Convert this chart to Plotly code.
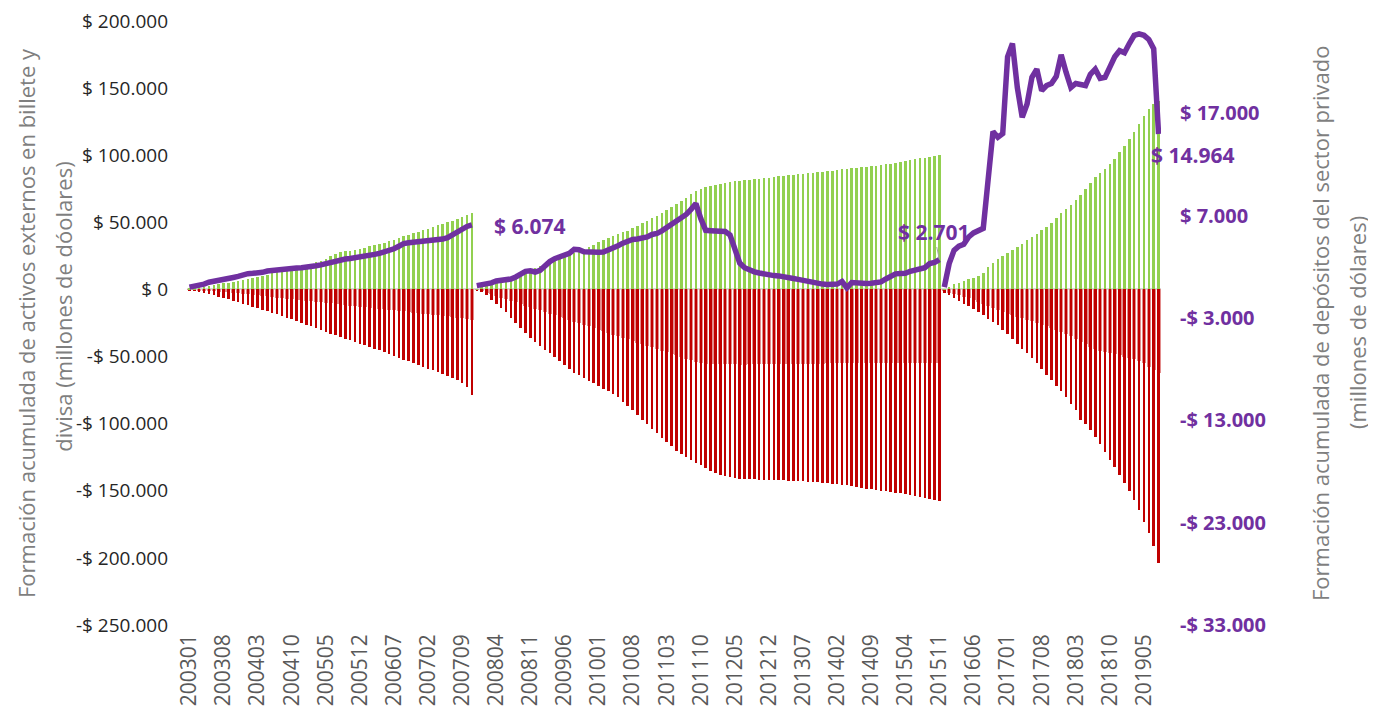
import plotly.graph_objects as go

# monthly categories 200301 .. 201908
months = [f"{y}{m:02d}" for y in range(2003, 2020) for m in range(1, 13)]
months = months[:months.index("201908") + 1]
pos = list(range(len(months)))

# three periods: 200301-200711, 200712-201511, 201512-201908
pos_a = pos[:59]
pos_b = pos[59:155]
pos_c = pos[155:]

# accumulated purchases (green, millions USD)
green_a = [400, 900, 1500, 2000, 2600, 3200, 3800, 4500, 5100, 5800, 6500, 7200, 7900, 8600, 9400,
           10300, 11100, 12000, 12800, 13700, 14500, 15400, 16300, 17200, 18200, 19200, 20300, 21500,
           23000, 24800, 26500, 27800, 28400, 29000, 29700, 30400, 31100, 32000, 32900, 33800, 34900,
           36000, 37100, 38300, 39500, 40600, 41800, 43000, 44100, 45300, 46500, 47700, 48900, 50100,
           51300, 52500, 53800, 55300, 57000]
green_b = [300, 1500, 2800, 4000, 5300, 6600, 7900, 9200, 10500, 11900, 13300, 14700, 16000, 17400,
           18800, 20200, 21600, 23000, 24500, 25900, 27300, 28800, 30200, 31700, 33400, 35200, 36700,
           38200, 39700, 41100, 42500, 43900, 45600, 47400, 49300, 51200, 53100, 55000, 57200, 59400,
           61600, 63900, 66200, 68500, 70800, 73000, 75000, 76300, 77300, 78100, 78800, 79400, 80000,
           80500, 81000, 81400, 81800, 82200, 82600, 83000, 83400, 83800, 84200, 84600, 85000, 85400,
           85800, 86200, 86600, 87000, 87400, 87800, 88200, 88600, 89000, 89400, 89800, 90200, 90600,
           91000, 91400, 91800, 92200, 92700, 93200, 93800, 94400, 95000, 95600, 96200, 96900, 97600,
           98300, 99000, 99700, 100300]
green_c = [300, 1700, 3700, 5000, 6000, 7500, 8600, 10000, 12500, 16500, 20000, 22800, 25200, 27300,
           29600, 31800, 34200, 36500, 39000, 41500, 44000, 46800, 49700, 53300, 56800, 59900, 63200,
           66800, 70500, 74700, 79000, 83600, 86700, 89800, 93500, 97300, 102200, 107100, 112100,
           117000, 123300, 129500, 134500, 138000, 140600]

# accumulated sales (red, millions USD)
red_a = [-800, -1500, -2200, -3000, -3700, -4500, -5400, -6400, -7400, -8500, -9600, -10700, -11800,
         -12900, -14000, -15000, -16100, -17300, -18500, -19700, -20900, -22200, -23500, -24800,
         -26200, -27500, -28900, -30300, -31600, -32900, -34200, -35400, -36600, -37900, -39100,
         -40400, -41600, -42900, -44100, -45400, -46800, -48100, -49500, -50800, -52200, -53500,
         -54900, -56200, -57600, -58900, -60300, -61600, -63000, -64500, -66000, -67600, -69800,
         -72700, -79000]
red_b = [-500, -2000, -4500, -7500, -10500, -13800, -17000, -21000, -25000, -29000, -32800, -36000,
         -39000, -42000, -45000, -47600, -50500, -53400, -56300, -59200, -62000, -64000, -66000,
         -68000, -70000, -72000, -74000, -76000, -78200, -80500, -83500, -86800, -90100, -93500,
         -96900, -100300, -103700, -107100, -110500, -113900, -117000, -120000, -122300, -124600,
         -126800, -129000, -131000, -133000, -135000, -136700, -138000, -139200, -140000, -140600,
         -140900, -141100, -141300, -141500, -141700, -141900, -142000, -142100, -142200, -142300,
         -142400, -142600, -142800, -143000, -143200, -143400, -143600, -143900, -144200, -144600,
         -145000, -145500, -146000, -146600, -147100, -147700, -148300, -149000, -149500, -150000,
         -150500, -151000, -151500, -152000, -152500, -153200, -154000, -154800, -155600, -156300,
         -157000, -157700]
red_c = [-2500, -4500, -6500, -8500, -10700, -12200, -14400, -16900, -19300, -21800, -24300, -26800,
         -30500, -33500, -37000, -40500, -44000, -47500, -51000, -54500, -59000, -63500, -67700,
         -72000, -76000, -80500, -85000, -89500, -97000, -100500, -105000, -110000, -115500, -121000,
         -127000, -132500, -138000, -144000, -150500, -157000, -164500, -173000, -181700, -191500,
         -204000]

# second negative series (lighter red, visible between the dark bars)
pink_a = [-200, -400, -600, -800, -1000, -1300, -1600, -1900, -2200, -2500, -2800, -3200, -3600,
          -4000, -4400, -4800, -5200, -5600, -6000, -6400, -6800, -7200, -7600, -8000, -8400, -8800,
          -9200, -9600, -10000, -10400, -10800, -11200, -11600, -12000, -12400, -12800, -13200,
          -13600, -14000, -14400, -14800, -15200, -15600, -16000, -16400, -16800, -17200, -17600,
          -18000, -18400, -18800, -19200, -19600, -20000, -20500, -21000, -21500, -22200, -23000]
pink_b = [-300, -1200, -2400, -3600, -4800, -6000, -7200, -8400, -9600, -10800, -12000, -13200,
          -14400, -15600, -16800, -18000, -19200, -20400, -21600, -22800, -24000, -25200, -26400,
          -27600, -28800, -30000, -31200, -32400, -33600, -34800, -36000, -37200, -38400, -39600,
          -40800, -42000, -43200, -44400, -45600, -46800, -48000, -49200, -50400, -51600, -52800,
          -54000, -55000, -55200, -55400, -55500, -55600, -55700, -55800, -55900, -56000, -56000,
          -55900, -55800, -55800, -55700, -55700, -55600, -55600, -55500, -55500, -55400, -55400,
          -55300, -55300, -55200, -55200, -55200, -55100, -55100, -55100, -55000, -55000, -55000,
          -55000, -55000, -55000, -55000, -55000, -55000, -55000, -55000, -55000, -55000, -55000,
          -55000, -55000, -55000, -55000, -55000, -55000, -55000]
pink_c = [-1500, -2500, -3500, -4500, -5500, -6500, -7500, -9000, -10500, -12000, -13500, -15000,
          -16500, -18000, -19000, -20200, -21400, -22600, -23800, -25000, -26300, -27600, -29000,
          -30400, -31700, -33000, -35000, -37000, -39000, -41000, -43000, -44500, -45500, -46500,
          -47300, -48000, -49000, -50000, -51000, -52000, -53000, -55000, -57500, -60000, -62500]

# accumulated private sector deposits (purple line, right axis)
dep_a = [0, 60, 150, 300, 480, 600, 700, 800, 880, 950, 1050, 1200, 1320, 1350, 1370, 1450, 1580,
         1650, 1700, 1760, 1810, 1840, 1870, 1900, 1930, 2000, 2090, 2180, 2300, 2450, 2600, 2700,
         2750, 2800, 2860, 2920, 3000, 3100, 3200, 3300, 3430, 3580, 3750, 4000, 4250, 4330, 4370,
         4390, 4420, 4480, 4550, 4620, 4700, 4830, 5100, 5480, 5750, 5930, 6074]
dep_b = [150, 220, 300, 420, 600, 660, 650, 800, 1000, 1250, 1550, 1600, 1480, 1650, 2100, 2500,
         2780, 2950, 3050, 3300, 3700, 3650, 3450, 3400, 3400, 3420, 3430, 3600, 3850, 4050, 4300,
         4550, 4660, 4700, 4760, 4900, 5150, 5250, 5500, 5800, 6100, 6400, 6700, 7100, 7600, 8170,
         6700, 5550, 5520, 5540, 5530, 5450, 5100, 3600, 2350, 1900, 1650, 1500, 1380, 1260, 1170,
         1130, 1100, 1050, 950, 850, 760, 650, 540, 460, 380, 300, 260, 250, 300, 560, -50, 450, 380,
         360, 370, 390, 430, 520, 800, 1100, 1300, 1340, 1350, 1550, 1650, 1800, 1900, 2300, 2420,
         2701]
dep_c = [0, 2300, 3600, 4000, 4200, 4900, 5300, 5550, 5750, 10500, 15200, 14650, 15000, 22500,
         23800, 19500, 16600, 17900, 20500, 21300, 19200, 19700, 19900, 20600, 22700, 21000, 19500,
         19900, 19800, 19700, 20800, 21300, 20400, 20500, 21500, 22500, 23100, 22900, 23800, 24600,
         24750, 24600, 24200, 23300, 14964]

for s in (green_a, red_a, pink_a, dep_a):
    assert len(s) == len(pos_a), len(s)
for s in (green_b, red_b, pink_b, dep_b):
    assert len(s) == len(pos_b), len(s)
for s in (green_c, red_c, pink_c, dep_c):
    assert len(s) == len(pos_c), len(s)

left_ticks = [200000, 150000, 100000, 50000, 0, -50000, -100000, -150000, -200000, -250000]
right_ticks = [17000, 7000, -3000, -13000, -23000, -33000]


def money(v):
    s = f"{abs(v):,.0f}".replace(",", ".")
    return ("-$ " if v < 0 else "$ ") + s


GREEN = "#92D050"
RED = "#C00000"
PINK = "#E38C8C"
PURPLE = "#7030A0"

fig = go.Figure()

fig.add_trace(go.Bar(x=pos, y=pink_a + pink_b + pink_c, marker_color=PINK,
                     marker_line_width=0, width=0.82, showlegend=False))
fig.add_trace(go.Bar(x=pos, y=red_a + red_b + red_c, marker_color=RED,
                     marker_line_width=0, width=0.52, showlegend=False))
fig.add_trace(go.Bar(x=pos, y=green_a + green_b + green_c, marker_color=GREEN,
                     marker_line_width=0, width=0.52, showlegend=False))

for p, dep in ((pos_a, dep_a), (pos_b, dep_b), (pos_c, dep_c)):
    fig.add_trace(go.Scatter(x=p, y=dep, yaxis="y2", mode="lines",
                             line=dict(color=PURPLE, width=5.5), showlegend=False))

# value labels at the end of each period
label_font = dict(family="Open Sans", size=21, color=PURPLE, weight="bold")
fig.add_annotation(x=pos_a[-1], y=dep_a[-1], yref="y2", text=money(dep_a[-1]),
                   showarrow=False, xanchor="left", xshift=20, yshift=-1, font=label_font)
fig.add_annotation(x=pos_b[-1], y=dep_b[-1], yref="y2", text=money(dep_b[-1]),
                   showarrow=True, arrowhead=0, arrowwidth=1, arrowcolor="#A6A6A6",
                   ax=-6, ay=-28, font=label_font)
fig.add_annotation(x=pos_c[-1], y=dep_c[-1], yref="y2", text=money(dep_c[-1]),
                   showarrow=False, xanchor="center", xshift=34, yshift=-21, font=label_font)

# axis titles
title_font = dict(family="Open Sans", size=22, color="#7F7F7F")
fig.add_annotation(xref="paper", yref="paper", x=0, y=0.5, xshift=-161, textangle=-90,
                   xanchor="center", yanchor="middle",
                   text="Formación acumulada de activos externos en billete y",
                   showarrow=False, font=title_font)
fig.add_annotation(xref="paper", yref="paper", x=0, y=0.527, xshift=-124, textangle=-90,
                   xanchor="center", yanchor="middle",
                   text="divisa (millones de dóolares)", showarrow=False, font=title_font)
fig.add_annotation(xref="paper", yref="paper", x=1, y=0.5, xshift=159, textangle=-90,
                   xanchor="center", yanchor="middle",
                   text="Formación acumulada de depósitos del sector privado",
                   showarrow=False, font=title_font)
fig.add_annotation(xref="paper", yref="paper", x=1, y=0.5, xshift=196, textangle=-90,
                   xanchor="center", yanchor="middle",
                   text="(millones de dólares)", showarrow=False, font=title_font)

# the page body adds an 8px offset, so margins are trimmed by that amount
fig.update_layout(
    width=1376, height=713,
    margin=dict(l=179, r=223, t=13, b=96),
    paper_bgcolor="white", plot_bgcolor="white",
    barmode="overlay", bargap=0,
    font=dict(family="Open Sans"),
    xaxis=dict(range=[-0.5, len(months) - 0.5], tickmode="array", tickvals=pos[::7],
               ticktext=months[::7], tickangle=-90, tickfont=dict(size=21, color="#595959"),
               showgrid=False, showline=False, zeroline=False, ticks="",
               ticklabelstandoff=4, automargin=False, ticklabeloverflow="allow"),
    yaxis=dict(range=[-250000, 200000], tickmode="array", tickvals=left_ticks,
               ticktext=[money(v) for v in left_ticks],
               tickfont=dict(size=19, color="#262626"),
               showgrid=False, showline=False, zeroline=True, zerolinecolor="#D9D9D9",
               zerolinewidth=2, ticks="", ticklabelstandoff=18, automargin=False,
               ticklabeloverflow="allow"),
    yaxis2=dict(range=[-33000, 26000], overlaying="y", side="right", tickmode="array",
                tickvals=right_ticks, ticktext=[money(v) for v in right_ticks],
                tickfont=dict(size=20, color=PURPLE, weight="bold"),
                showgrid=False, showline=False, zeroline=False, ticks="",
                ticklabelstandoff=18, automargin=False, ticklabeloverflow="allow"),
)

fig.write_html("out.html")
